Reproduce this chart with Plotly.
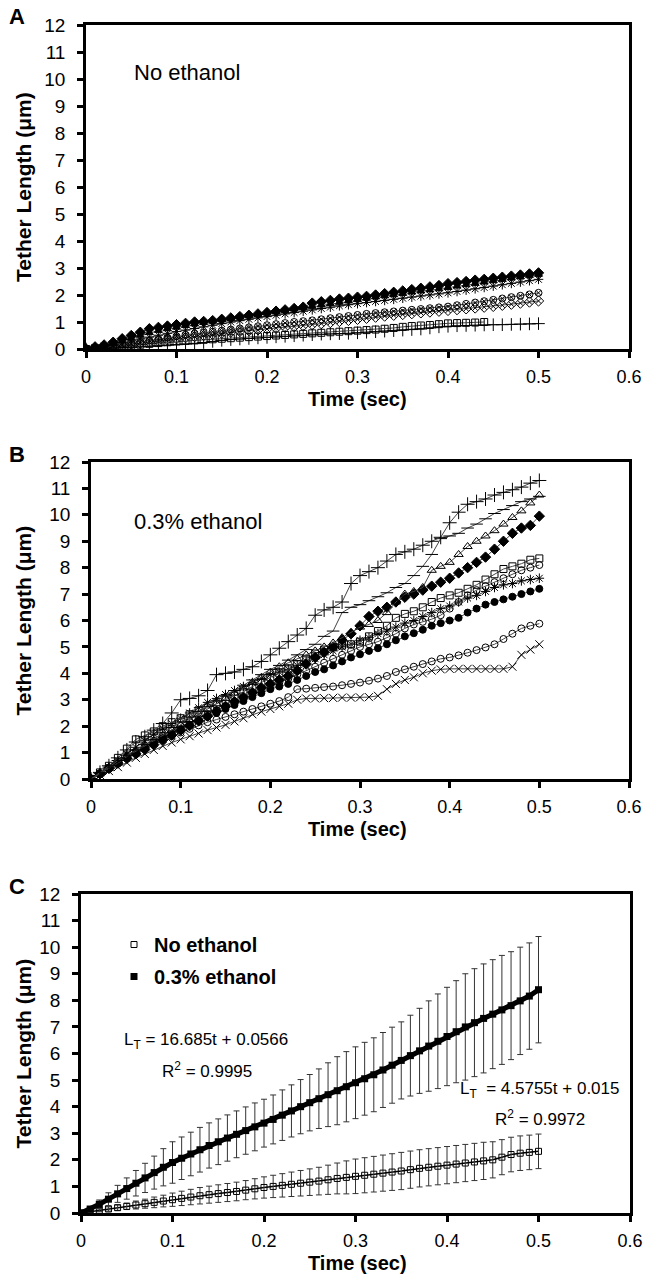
import plotly.graph_objects as go

# time points (sec) shared by panels A, B and C
T = [0.00, 0.01, 0.02, 0.03, 0.04, 0.05, 0.06, 0.07, 0.08, 0.09,
     0.10, 0.11, 0.12, 0.13, 0.14, 0.15, 0.16, 0.17, 0.18, 0.19,
     0.20, 0.21, 0.22, 0.23, 0.24, 0.25, 0.26, 0.27, 0.28, 0.29,
     0.30, 0.31, 0.32, 0.33, 0.34, 0.35, 0.36, 0.37, 0.38, 0.39,
     0.40, 0.41, 0.42, 0.43, 0.44, 0.45, 0.46, 0.47, 0.48, 0.49, 0.50]

# panel A - no ethanol, tether length (um)
a1 = [0, .08, .15, .25, .38, .5, .62, .75, .8, .85, .9, .95, 1.0, 1.02, 1.05, 1.1, 1.15, 1.2, 1.25, 1.3,
      1.35, 1.4, 1.45, 1.5, 1.55, 1.7, 1.75, 1.8, 1.85, 1.88, 1.92, 1.95, 2.0, 2.05, 2.1, 2.15, 2.2, 2.25, 2.3, 2.35,
      2.42, 2.46, 2.5, 2.55, 2.58, 2.62, 2.66, 2.7, 2.74, 2.78, 2.82]
a2 = [0, .06, .12, .2, .3, .4, .5, .6, .68, .74, .8, .86, .92, .97, 1.02, 1.07, 1.12, 1.17, 1.22, 1.27,
      1.32, 1.37, 1.42, 1.47, 1.52, 1.57, 1.62, 1.67, 1.72, 1.77, 1.82, 1.87, 1.92, 1.96, 2.0, 2.05, 2.1, 2.14, 2.18, 2.22,
      2.27, 2.32, 2.37, 2.42, 2.47, 2.52, 2.57, 2.62, 2.67, 2.72, 2.76]
a3 = [0, .05, .1, .16, .23, .3, .37, .44, .51, .58, .65, .7, .76, .82, .88, .94, 1.0, 1.05, 1.1, 1.15,
      1.2, 1.25, 1.3, 1.35, 1.4, 1.45, 1.5, 1.55, 1.6, 1.64, 1.68, 1.72, 1.76, 1.8, 1.84, 1.88, 1.92, 1.96, 2.0, 2.04,
      2.08, 2.13, 2.18, 2.23, 2.28, 2.33, 2.38, 2.43, 2.48, 2.53, 2.58]
a4 = [0, .04, .08, .12, .17, .22, .27, .32, .37, .42, .47, .52, .56, .6, .64, .68, .72, .76, .8, .84,
      .88, .92, .96, 1.0, 1.03, 1.06, 1.1, 1.14, 1.18, 1.22, 1.26, 1.3, 1.33, 1.36, 1.39, 1.42, 1.45, 1.48, 1.51, 1.54,
      1.57, 1.62, 1.67, 1.72, 1.77, 1.82, 1.87, 1.92, 1.97, 2.02, 2.08]
a5 = [0, .03, .06, .1, .14, .18, .22, .26, .3, .34, .38, .42, .46, .5, .54, .58, .62, .65, .68, .71,
      .74, .77, .8, .83, .86, .9, .94, .98, 1.02, 1.06, 1.1, 1.14, 1.18, 1.22, 1.25, 1.28, 1.31, 1.34, 1.37, 1.4,
      1.43, 1.46, 1.49, 1.52, 1.55, 1.58, 1.62, 1.66, 1.7, 1.74, 1.78]
a6 = [0, .02, .04, .07, .1, .13, .16, .19, .22, .25, .28, .3, .32, .34, .36, .38, .4, .42, .44, .46,
      .48, .5, .52, .54, .56, .58, .6, .62, .64, .66, .68, .7, .72, .75, .78, .82, .85, .87, .89, .92,
      .95, .96, .97, .98, 1.0, None, None, None, None, None, None]
a7 = [0, .01, .02, .03, .04, .06, .08, .1, .12, .14, .16, .18, .2, .24, .28, .32, .35, .37, .39, .41,
      .43, .45, .47, .49, .51, .53, .55, .56, .57, .58, .6, .62, .64, .66, .68, .7, .72, .74, .78, .82,
      .84, .86, .87, .88, .89, .9, .9, .91, .92, .93, .94]

# panel B - 0.3% ethanol
b1 = [0, .25, .5, .8, 1.1, 1.4, 1.6, 1.85, 2.1, 2.5, 3.0, 3.05, 3.15, 3.35, 3.95, 4.0, 4.05, 4.15, 4.25, 4.45,
      4.7, 4.95, 5.2, 5.45, 5.7, 6.2, 6.4, 6.5, 6.7, 7.4, 7.7, 7.85, 8.0, 8.25, 8.5, 8.6, 8.7, 8.85, 9.0, 9.15,
      9.7, 10.1, 10.4, 10.5, 10.6, 10.75, 10.85, 10.95, 11.05, 11.2, 11.3]
b2 = [0, .2, .45, .7, .9, 1.1, 1.3, 1.5, 1.75, 1.95, 2.15, 2.35, 2.55, 2.75, 2.95, 3.15, 3.35, 3.55, 3.75, 3.95,
      4.15, 4.3, 4.5, 4.7, 4.9, 5.1, 5.4, 5.6, 6.3, 6.5, 6.6, 6.75, 6.9, 7.05, 7.25, 7.4, 7.7, 8.05, 8.5, 9.1,
      9.2, 9.3, 9.5, 9.65, 9.85, 10.05, 10.2, 10.35, 10.5, 10.6, 10.7]
b3 = [0, .2, .4, .6, .85, 1.05, 1.25, 1.45, 1.65, 1.85, 2.05, 2.25, 2.45, 2.65, 2.85, 3.05, 3.25, 3.45, 3.65, 3.85,
      4.05, 4.25, 4.4, 4.55, 4.7, 4.85, 5.0, 5.15, 5.35, 5.55, 5.75, 5.85, 6.0, 6.3, 6.7, 7.0, 7.1, 7.25, 7.9, 8.05,
      8.2, 8.5, 8.8, 9.0, 9.2, 9.4, 9.65, 9.9, 10.15, 10.45, 10.75]
b4 = [0, .2, .4, .6, .78, .95, 1.12, 1.3, 1.48, 1.66, 1.85, 2.02, 2.2, 2.38, 2.56, 2.75, 2.93, 3.1, 3.28, 3.45,
      3.6, 3.75, 3.9, 4.1, 4.35, 4.6, 4.8, 5.0, 5.25, 5.5, 5.8, 6.15, 6.35, 6.5, 6.7, 6.88, 7.0, 7.15, 7.3, 7.45,
      7.6, 7.8, 8.0, 8.2, 8.4, 8.7, 9.0, 9.3, 9.5, 9.6, 9.95]
b5 = [0, .25, .5, .8, 1.15, 1.5, 1.65, 1.8, 2.0, 2.15, 2.3, 2.45, 2.6, 2.7, 2.85, 3.0, 3.15, 3.3, 3.5, 3.65,
      3.85, 4.0, 4.15, 4.35, 4.55, 4.75, 4.9, 5.0, 5.05, 5.1, 5.2, 5.4, 5.6, 5.8, 6.1, 6.25, 6.35, 6.5, 6.7, 6.85,
      6.95, 7.05, 7.2, 7.35, 7.55, 7.75, 7.95, 8.05, 8.15, 8.3, 8.35]
b6 = [0, .2, .42, .65, .85, 1.05, 1.25, 1.45, 1.65, 1.85, 2.0, 2.15, 2.3, 2.45, 2.6, 2.75, 2.9, 3.05, 3.2, 3.35,
      3.5, 3.65, 3.8, 3.95, 4.1, 4.25, 4.4, 4.55, 4.7, 4.85, 5.0, 5.1, 5.2, 5.35, 5.5, 5.7, 5.85, 5.95, 6.05, 6.2,
      6.45, 6.7, 6.95, 7.15, 7.3, 7.45, 7.6, 7.75, 7.9, 8.0, 8.1]
b7 = [0, .22, .45, .7, .95, 1.2, 1.45, 1.7, 1.9, 2.1, 2.3, 2.5, 2.7, 2.9, 3.05, 3.2, 3.35, 3.5, 3.65, 3.8,
      3.95, 4.05, 4.15, 4.3, 4.45, 4.55, 4.7, 4.85, 5.0, 5.1, 5.25, 5.35, 5.5, 5.6, 5.75, 5.9, 6.0, 6.15, 6.3, 6.45,
      6.55, 6.7, 6.85, 6.95, 7.1, 7.25, 7.35, 7.4, 7.5, 7.55, 7.6]
b8 = [0, .18, .38, .58, .78, .98, 1.18, 1.38, 1.55, 1.72, 1.9, 2.05, 2.2, 2.35, 2.5, 2.65, 2.8, 2.95, 3.1, 3.25,
      3.4, 3.5, 3.6, 3.75, 3.9, 4.05, 4.15, 4.3, 4.45, 4.6, 4.72, 4.85, 4.95, 5.1, 5.25, 5.4, 5.52, 5.65, 5.8, 5.9,
      6.0, 6.1, 6.3, 6.45, 6.6, 6.7, 6.8, 6.9, 7.0, 7.1, 7.2]
b9 = [0, .2, .42, .64, .82, 1.0, 1.18, 1.34, 1.48, 1.62, 1.76, 1.9, 2.03, 2.15, 2.25, 2.35, 2.45, 2.55, 2.65, 2.75,
      2.85, 2.95, 3.1, 3.4, 3.42, 3.45, 3.48, 3.5, 3.55, 3.6, 3.65, 3.72, 3.8, 3.9, 4.05, 4.15, 4.25, 4.35, 4.45, 4.55,
      4.6, 4.68, 4.78, 4.88, 4.98, 5.1, 5.3, 5.5, 5.7, 5.8, 5.88]
b10 = [0, .15, .3, .45, .62, .8, .95, 1.1, 1.25, 1.38, 1.5, 1.62, 1.72, 1.85, 1.95, 2.05, 2.18, 2.3, 2.45, 2.55,
       2.65, 2.75, 2.85, 3.0, 3.05, 3.05, 3.06, 3.07, 3.08, 3.08, 3.09, 3.1, 3.15, 3.4, 3.6, 3.75, 3.85, 4.0, 4.1, 4.15,
       4.17, 4.17, 4.17, 4.17, 4.17, 4.17, 4.17, 4.25, 4.7, 4.9, 5.1]

# panel C - averages with error bars
no_eth_mean = [0, .05, .1, .15, .2, .25, .3, .35, .4, .45, .5, .55, .6, .65, .69, .73, .77, .81, .86, .91,
               .96, 1.0, 1.04, 1.08, 1.12, 1.16, 1.2, 1.25, 1.3, 1.34, 1.38, 1.42, 1.46, 1.5, 1.54, 1.58, 1.63, 1.68, 1.72, 1.76,
               1.8, 1.84, 1.88, 1.92, 1.96, 2.0, 2.1, 2.2, 2.25, 2.28, 2.32]
no_eth_err = [0, .03, .05, .08, .1, .12, .15, .17, .2, .22, .25, .27, .29, .31, .32, .33, .34, .35, .36, .38,
              .4, .42, .44, .46, .48, .5, .52, .55, .58, .62, .65, .66, .67, .68, .69, .7, .7, .7, .7, .7,
              .7, .7, .7, .7, .7, .68, .66, .65, .65, .65, .65]
eth_mean = [0, .15, .33, .52, .72, .92, 1.12, 1.32, 1.52, 1.72, 1.9, 2.06, 2.22, 2.38, 2.54, 2.68, 2.82, 2.96, 3.1, 3.24,
            3.38, 3.52, 3.68, 3.84, 4.0, 4.15, 4.3, 4.45, 4.6, 4.75, 4.9, 5.05, 5.2, 5.38, 5.56, 5.74, 5.92, 6.1, 6.28, 6.46,
            6.64, 6.82, 7.0, 7.16, 7.32, 7.48, 7.64, 7.8, 7.98, 8.16, 8.4]
eth_err = [0, .08, .16, .24, .32, .4, .48, .55, .62, .7, .78, .8, .82, .84, .85, .86, .87, .88, .89, .9,
           .9, .92, .95, .98, 1.02, 1.06, 1.12, 1.2, 1.28, 1.32, 1.35, 1.37, 1.39, 1.41, 1.43, 1.45, 1.52, 1.6, 1.7, 1.78,
           1.85, 1.92, 2.0, 2.03, 2.05, 2.05, 2.05, 2.03, 2.02, 2.0, 2.0]

W, H = 649, 1278
FONT = "Liberation Sans, Arial, sans-serif"


def px(x):
    return x / W


def py(y):
    return 1 - y / H


def series(y, symbol, size, xa, ya):
    return go.Scatter(
        x=T, y=y, mode="lines+markers", xaxis=xa, yaxis=ya, showlegend=False,
        line={"color": "#444", "width": 1},
        marker={"symbol": symbol, "size": size, "color": "black",
                "line": {"color": "black", "width": 1}},
    )


fig = go.Figure()

for y, sym, sz in [(a7, "cross-thin-open", 9), (a6, "square-open", 7), (a5, "diamond-x-open", 8),
                   (a4, "circle-x-open", 7), (a3, "asterisk-open", 8), (a2, "triangle-up", 7),
                   (a1, "diamond", 8)]:
    fig.add_trace(series(y, sym, sz, "x", "y"))

for y, sym, sz in [(b10, "x-thin-open", 8), (b9, "circle-open", 7), (b8, "circle", 7),
                   (b7, "asterisk-open", 8), (b6, "circle-open", 7), (b5, "square-open", 7),
                   (b4, "diamond", 8), (b3, "triangle-up-open", 8), (b2, "line-ew-open", 9),
                   (b1, "cross-thin-open", 10)]:
    fig.add_trace(series(y, sym, sz, "x2", "y2"))

# connecting lines of the averages (kept out of the legend)
fig.add_trace(go.Scatter(x=T, y=no_eth_mean, mode="lines", xaxis="x3", yaxis="y3", showlegend=False,
                         line={"color": "black", "width": 1.5}))
fig.add_trace(go.Scatter(x=T, y=eth_mean, mode="lines", xaxis="x3", yaxis="y3", showlegend=False,
                         line={"color": "black", "width": 5}))

fig.add_trace(go.Scatter(
    x=T, y=no_eth_mean, mode="markers", xaxis="x3", yaxis="y3", name="<b>No ethanol</b>",
    legendgroup="a",
    marker={"symbol": "square-open", "size": 6, "color": "black", "line": {"width": 1, "color": "black"}},
    error_y={"type": "data", "array": no_eth_err, "color": "#333", "thickness": 1, "width": 3},
))
fig.add_trace(go.Scatter(
    x=T, y=eth_mean, mode="markers", xaxis="x3", yaxis="y3", name="<b>0.3% ethanol</b>",
    legendgroup="b",
    marker={"symbol": "square", "size": 7, "color": "black"},
    error_y={"type": "data", "array": eth_err, "color": "#333", "thickness": 1, "width": 3},
))


def xax(dom, anchor):
    return dict(domain=dom, anchor=anchor, range=[0, 0.6], tick0=0, dtick=0.1, automargin=False,
                showline=True, linewidth=2.5, linecolor="black", mirror=True,
                ticks="outside", ticklen=6, tickwidth=2.5, tickcolor="black",
                showgrid=False, zeroline=False, ticklabelstandoff=4,
                tickfont={"family": FONT, "size": 18, "color": "black"})


def yax(dom, anchor):
    return dict(domain=dom, anchor=anchor, range=[0, 12], tick0=0, dtick=1, automargin=False,
                showline=True, linewidth=2.5, linecolor="black", mirror=True,
                ticks="outside", ticklen=6, tickwidth=2.5, tickcolor="black",
                showgrid=False, zeroline=False, ticklabelstandoff=8,
                tickfont={"family": FONT, "size": 19, "color": "black"})


panels = [(86, 629, 25, 349), (91, 629, 462, 779), (81, 630, 894, 1213)]


def note(x, y, text, size, **kw):
    d = dict(x=px(x), y=py(y), xref="paper", yref="paper", text=text, showarrow=False,
             xanchor="center", yanchor="middle",
             font={"family": FONT, "size": size, "color": "black"})
    d.update(kw)
    return d


annotations = []
for i, (x0, x1, y0, y1) in enumerate(panels):
    annotations.append(note(23, (y0 + y1) / 2, "<b>Tether Length (\u03bcm)</b>", 21, textangle=-90))
    annotations.append(note(357, y1 + 50, "<b>Time (sec)</b>", 20))
    annotations.append(note(17, y0 - 8, "<b>" + "ABC"[i] + "</b>", 22))

annotations += [
    note(132, 72, "No ethanol", 22, xanchor="left"),
    note(132, 521, "0.3% ethanol", 22, xanchor="left"),
    note(206, 1041, "L<sub>T</sub> = 16.685t + 0.0566", 17),
    note(207, 1070, "R<sup>2</sup> = 0.9995", 17),
    note(539, 1090, "L<sub>T</sub>  = 4.5755t + 0.015", 17),
    note(540, 1118, "R<sup>2</sup> = 0.9972", 17),
]

fig.update_layout(
    template="none",
    width=W, height=H, margin={"l": 0, "r": 0, "t": 0, "b": 0, "autoexpand": False},
    paper_bgcolor="white", plot_bgcolor="white",
    xaxis=xax([px(86), px(629)], "y"), yaxis=yax([py(349), py(25)], "x"),
    xaxis2=xax([px(91), px(629)], "y2"), yaxis2=yax([py(779), py(462)], "x2"),
    xaxis3=xax([px(81), px(630)], "y3"), yaxis3=yax([py(1213), py(894)], "x3"),
    annotations=annotations,
    showlegend=True,
    legend={"x": px(114), "y": py(925), "xanchor": "left", "yanchor": "top",
            "bgcolor": "rgba(0,0,0,0)", "tracegroupgap": 3, "itemwidth": 30,
            "font": {"family": FONT, "size": 20, "color": "black"}},
)

fig.write_html("out.html", config={"displayModeBar": False},
               post_script="document.body.style.margin='0';")
